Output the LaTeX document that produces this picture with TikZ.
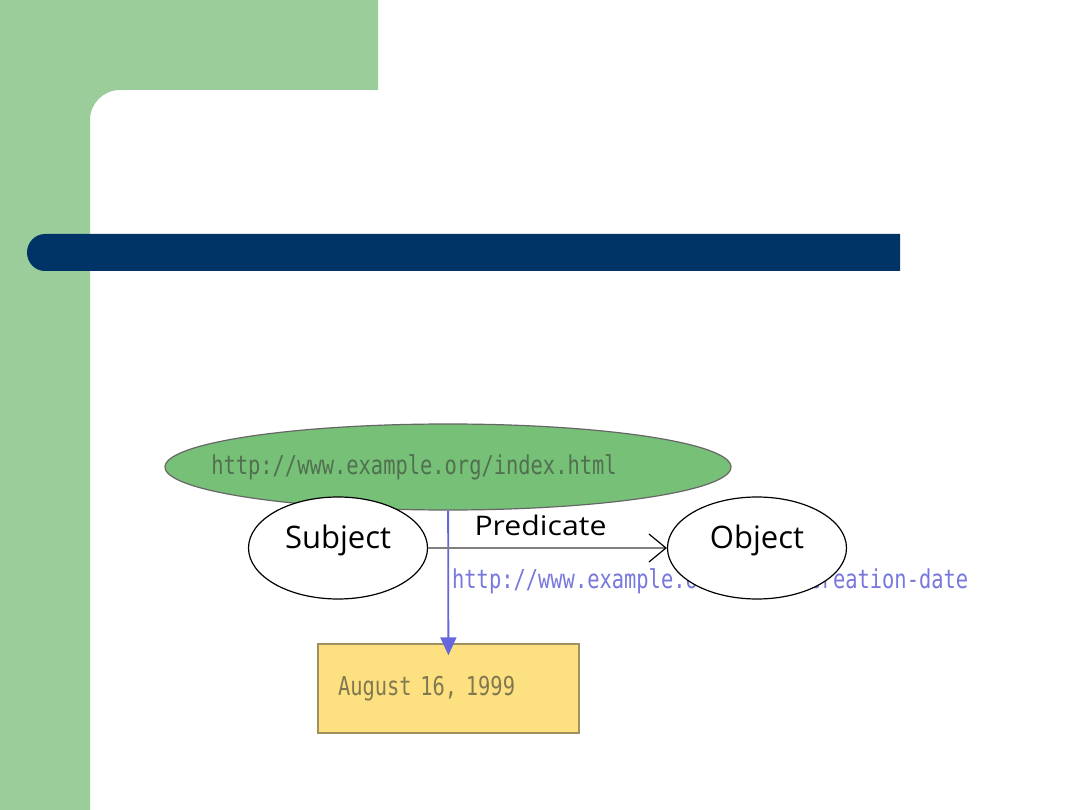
\documentclass[tikz,border=0pt]{standalone}
\usepackage{fontspec}
\usepackage{tikz}
\usetikzlibrary{arrows.meta,shapes.geometric}
\newfontfamily\urlfont[FakeStretch=0.785]{DejaVu Sans Mono}
\newfontfamily\tagfont{Open Sans}
\newfontfamily\predfont[FakeStretch=1.12]{Open Sans}
\definecolor{slidegreen}{RGB}{155,205,155}
\definecolor{slidenavy}{RGB}{0,51,102}
\definecolor{resgreen}{RGB}{119,192,119}
\definecolor{urlgreen}{RGB}{80,112,80}
\definecolor{propblue}{RGB}{102,102,221}
\definecolor{proptext}{RGB}{119,119,221}
\definecolor{datefill}{RGB}{253,224,128}
\definecolor{dateline}{RGB}{160,144,96}
\definecolor{datetext}{RGB}{128,120,80}
\begin{document}
\begin{tikzpicture}[x=1pt,y=-1pt,
				res/.style={ellipse,draw=black!60,fill=resgreen,line width=1.2pt,
					minimum width=566pt,minimum height=86pt,inner sep=0pt,
					text=urlgreen,font=\urlfont\fontsize{26}{30}\selectfont},
				role/.style={ellipse,draw=black,fill=white,line width=1.2pt,
					minimum width=179pt,minimum height=102pt,inner sep=0pt,
					text height=10pt,text depth=10pt,
					font=\tagfont\fontsize{31}{36}\selectfont},
				lit/.style={rectangle,draw=dateline,fill=datefill,line width=1.4pt,
					text width=221pt,align=left,inner sep=20pt,
					minimum height=89pt,text=datetext,
					font=\urlfont\fontsize{26}{30}\selectfont},
				pred/.style={draw=black!50,line width=1.2pt,
					-{Straight Barb[length=17pt,width=28pt,color=black]}},
				prop/.style={draw=propblue,line width=1.8pt,shorten >=-12pt,
					-{Triangle[length=18pt,width=16pt]}}]

				%%%%%%%%%%%%%%%%  slide background  %%%%%%%%%%%%%%%%
				\useasboundingbox (0,0) rectangle (1080,810);
				\fill[white] (0,0) rectangle (1080,810);
				\fill[slidegreen] (0,0) -- (378,0) -- (378,90) -- (120,90)
					arc[start angle=270,end angle=180,radius=30] -- (90,810) -- (0,810) -- cycle;
				\fill[slidenavy] (900,234) -- (45,234)
					arc[start angle=270,end angle=90,x radius=18,y radius=18.5]
					-- (900,271) -- cycle;

				%%%%%%%%%%%%%%%%  the statement  %%%%%%%%%%%%%%%%
				\node[res] (page) at (448,467)
					{\hbox to 0pt{\hss http://www.example.org/index.html\hskip68pt\hss}};
				\node[role] (subj) at (338,548) {Subject};
				\node[lit] (date) at (448.5,688.5) {August 16, 1999};
				% property arrow, its label runs behind the object
				\draw[prop] (page) -- node[pos=0.535,anchor=west,inner sep=3pt,
					text=proptext,font=\urlfont\fontsize{26}{30}\selectfont]
					{http://www.example.org/terms/creation-date} (date);
				\node[role] (obj) at (757,548) {Object};
				% the triple edge
				\draw[pred] (subj) -- node[anchor=base,yshift=13pt,xshift=-7pt,
					font=\predfont\fontsize{27}{32}\selectfont] {Predicate} (obj);
			\end{tikzpicture}
\end{document}
